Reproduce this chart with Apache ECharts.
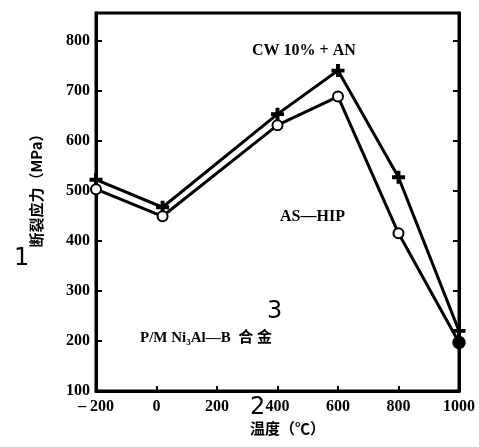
<!DOCTYPE html>
<html>
<head>
<meta charset="utf-8">
<script src="https://cdn.jsdelivr.net/npm/echarts@6/dist/echarts.min.js"></script>
<style>
html,body{margin:0;padding:0;background:#fff;}
#c{width:479px;height:447px;}
</style>
</head>
<body>
<div id="c"></div>
<script>
const temps = [-200, 20, 400, 600, 800, 1000];
const cwAn = [522, 467, 653, 740, 527, 220];
const asHip = [503, 449, 631, 688, 415, 197];
const xTicks = [-200, 0, 200, 400, 600, 800, 1000];
const yTicks = [100, 200, 300, 400, 500, 600, 700, 800];
const seriesNames = ['CW 10% + AN', 'AS—HIP'];

const chart = echarts.init(document.getElementById('c'));
const font = '"Liberation Serif", "DejaVu Serif", serif';
const cjk = '"Noto Sans CJK SC", sans-serif';
const plusPath = 'path://M3.5,0 L6.5,0 L6.5,3.5 L10,3.5 L10,6.5 L6.5,6.5 L6.5,10 L3.5,10 L3.5,6.5 L0,6.5 L0,3.5 L3.5,3.5 Z';

chart.setOption({
  animation: false,
  backgroundColor: '#fff',
  grid: {left: 96, right: 20, top: 13, bottom: 56, show: true, borderColor: '#000', borderWidth: 3, backgroundColor: 'transparent'},
  xAxis: {
    type: 'value', min: xTicks[0], max: xTicks[xTicks.length - 1], interval: 200,
    name: '温度（℃）', nameLocation: 'middle', nameGap: 30,
    nameTextStyle: {fontFamily: cjk, fontWeight: 'bold', fontSize: 15, color: '#000', padding: [0, 0, 0, 20]},
    axisLine: {onZero: false, lineStyle: {color: '#000', width: 3}},
    axisTick: {inside: true, length: 5, lineStyle: {color: '#000', width: 2}},
    axisLabel: {color: '#000', fontFamily: font, fontWeight: 'bold', fontSize: 16, margin: 8,
      formatter: v => (v < 0 ? '– ' + Math.abs(v) : String(v))},
    splitLine: {show: false}
  },
  yAxis: [{
    type: 'value', min: yTicks[0], max: 855, interval: 100,
    name: '断裂应力（MPa）', nameLocation: 'middle', nameGap: 52,
    nameTextStyle: {fontFamily: cjk, fontWeight: 'bold', fontSize: 15, color: '#000', padding: [0, 0, 0, 30]},
    axisLine: {onZero: false, lineStyle: {color: '#000', width: 3}},
    axisTick: {inside: true, length: 6, lineStyle: {color: '#000', width: 2}},
    axisLabel: {color: '#000', fontFamily: font, fontWeight: 'bold', fontSize: 16, margin: 6,
      formatter: v => (yTicks.indexOf(v) >= 0 ? String(v) : '')},
    splitLine: {show: false}
  }, {
    type: 'value', min: yTicks[0], max: 855, interval: 100, position: 'right',
    axisLine: {show: true, onZero: false, lineStyle: {color: '#000', width: 3}},
    axisTick: {inside: true, length: 6, lineStyle: {color: '#000', width: 2}},
    axisLabel: {show: false},
    splitLine: {show: false}
  }],
  series: [{
    name: seriesNames[0], type: 'line',
    data: temps.map((t, i) => [t, cwAn[i]]),
    symbol: plusPath, symbolSize: 13,
    lineStyle: {color: '#000', width: 3},
    itemStyle: {color: '#000'}
  }, {
    name: seriesNames[1], type: 'line',
    data: temps.map((t, i) => ({value: [t, asHip[i]],
      symbol: i === temps.length - 1 ? 'circle' : 'emptyCircle',
      symbolSize: i === temps.length - 1 ? 11 : 10})),
    symbol: 'emptyCircle', symbolSize: 10,
    lineStyle: {color: '#000', width: 3},
    itemStyle: {color: '#000', borderColor: '#000', borderWidth: 2.5}
  }],
  graphic: [
    {type: 'text', left: 252, top: 43, style: {text: seriesNames[0], font: 'bold 16px ' + font, fill: '#000'}},
    {type: 'text', left: 280, top: 209, style: {text: seriesNames[1], font: 'bold 16px ' + font, fill: '#000'}},
    {type: 'text', left: 140, top: 331, style: {text: 'P/M Ni₃Al—B  合 金', font: 'bold 15px ' + font + ', ' + cjk, fill: '#000'}},
    {type: 'text', left: 14, top: 247, style: {text: '1', font: '24px "DejaVu Sans", sans-serif', fill: '#000'}},
    {type: 'text', left: 250, top: 396, style: {text: '2', font: '24px "DejaVu Sans", sans-serif', fill: '#000'}},
    {type: 'text', left: 267, top: 300, style: {text: '3', font: '24px "DejaVu Sans", sans-serif', fill: '#000'}}
  ]
});
</script>
</body>
</html>
